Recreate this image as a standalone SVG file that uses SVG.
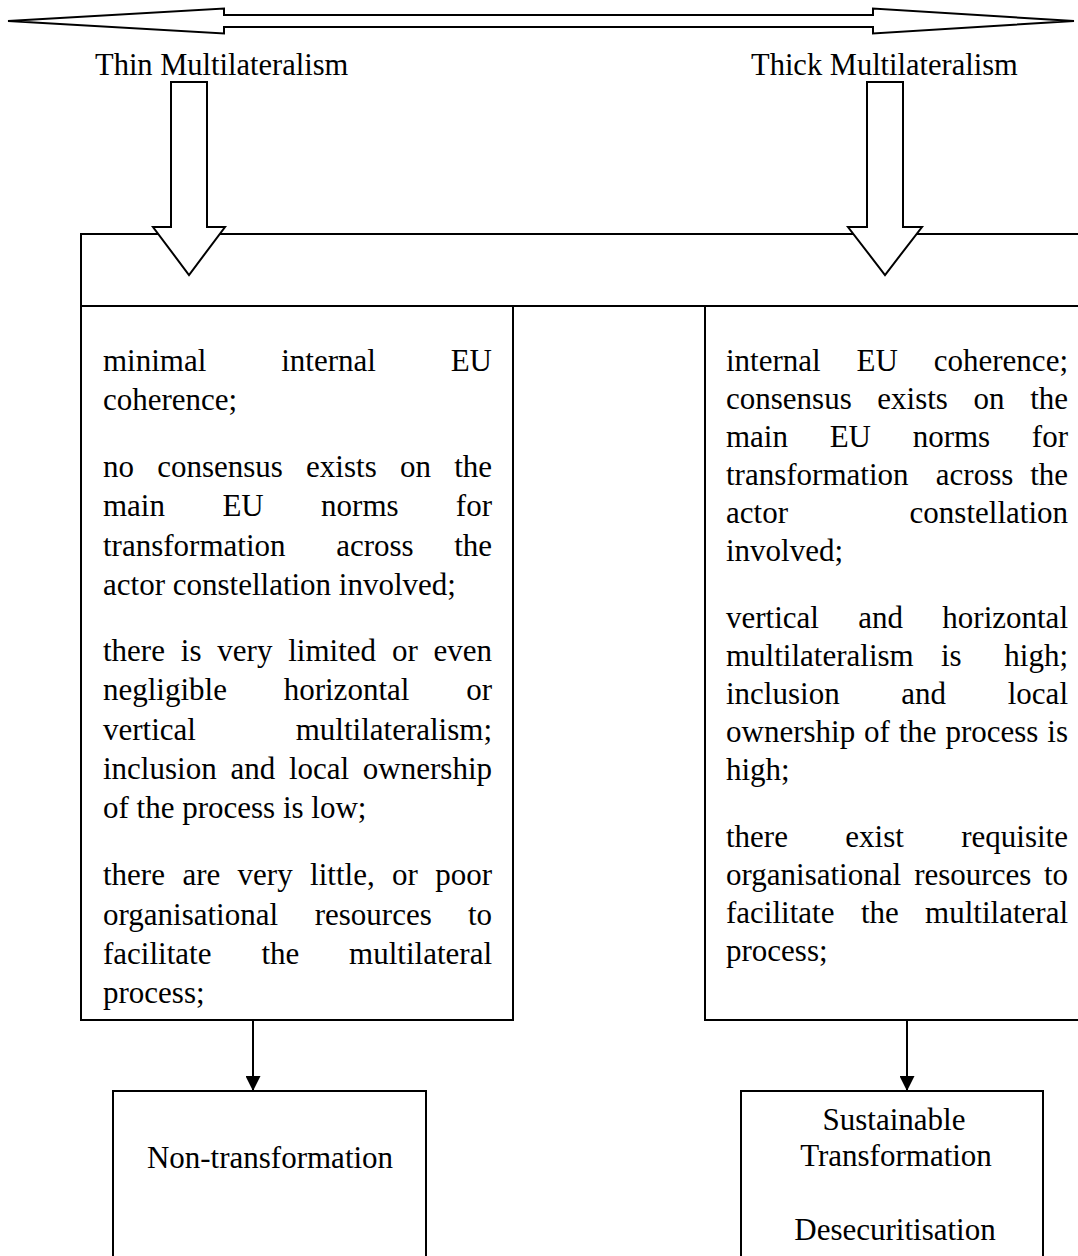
<svg xmlns="http://www.w3.org/2000/svg" width="1078" height="1256" viewBox="0 0 1078 1256">
<style>
.bx{fill:#fff;stroke:#000;stroke-width:2}
.blk{fill:#fff;stroke:#000;stroke-width:2;stroke-linejoin:miter}
.t{font-family:"Liberation Serif","Times New Roman",serif;font-size:31px;fill:#000}
.h{font-family:"Liberation Serif","Times New Roman",serif;font-size:30.5px;fill:#000}
.e{text-anchor:end}
.c{text-anchor:middle}
.ln{stroke:#000;stroke-width:2;fill:none}
</style>
<defs>
<marker id="ah" markerWidth="15" markerHeight="15" refX="14" refY="7.5" orient="auto" markerUnits="userSpaceOnUse">
<path d="M0,0 L15,7.5 L0,15 z" fill="#000"/>
</marker>
</defs>
<rect width="1078" height="1256" fill="#fff"/>

<g id="spectrum">
<polygon class="blk" points="8,21 224,8.5 224,15 873,15 873,8.5 1074,21 873,33.5 873,27 224,27 224,33.5"/>
</g>

<g id="thin-label"><text class="h" x="95" y="75">Thin Multilateralism</text></g>
<g id="thick-label"><text class="h" x="751" y="75">Thick Multilateralism</text></g>

<g id="top-box"><rect class="bx" x="81" y="234" width="1010" height="72"/></g>

<g id="thin-box">
<rect class="bx" x="81" y="306" width="432" height="714"/>
<text class="t" x="103" y="371">minimal</text><text class="t" x="281.2" y="371">internal</text><text class="t e" x="492" y="371">EU</text>
<text class="t" x="103" y="410">coherence;</text>
<text class="t" x="103" y="477">no</text><text class="t" x="157.2" y="477">consensus</text><text class="t" x="306.1" y="477">exists</text><text class="t" x="399.9" y="477">on</text><text class="t e" x="492" y="477">the</text>
<text class="t" x="103" y="516">main</text><text class="t" x="222.4" y="516">EU</text><text class="t" x="321.1" y="516">norms</text><text class="t e" x="492" y="516">for</text>
<text class="t" x="103" y="556">transformation</text><text class="t" x="336.2" y="556">across</text><text class="t e" x="492" y="556">the</text>
<text class="t" x="103" y="595">actor constellation involved;</text>
<text class="t" x="103" y="661">there</text><text class="t" x="180.8" y="661">is</text><text class="t" x="217.3" y="661">very</text><text class="t" x="288.2" y="661">limited</text><text class="t" x="391.9" y="661">or</text><text class="t e" x="492" y="661">even</text>
<text class="t" x="103" y="700">negligible</text><text class="t" x="283.7" y="700">horizontal</text><text class="t e" x="492" y="700">or</text>
<text class="t" x="103" y="740">vertical</text><text class="t e" x="492" y="740">multilateralism;</text>
<text class="t" x="103" y="779">inclusion</text><text class="t" x="230.4" y="779">and</text><text class="t" x="288.9" y="779">local</text><text class="t e" x="492" y="779">ownership</text>
<text class="t" x="103" y="818">of the process is low;</text>
<text class="t" x="103" y="885">there</text><text class="t" x="182.4" y="885">are</text><text class="t" x="237.6" y="885">very</text><text class="t" x="310.1" y="885">little,</text><text class="t" x="392.1" y="885">or</text><text class="t e" x="492" y="885">poor</text>
<text class="t" x="103" y="925">organisational</text><text class="t" x="314.7" y="925">resources</text><text class="t e" x="492" y="925">to</text>
<text class="t" x="103" y="964">facilitate</text><text class="t" x="261.4" y="964">the</text><text class="t e" x="492" y="964">multilateral</text>
<text class="t" x="103" y="1003">process;</text>
</g>

<g id="thick-box">
<rect class="bx" x="705" y="306" width="386" height="714"/>
<text class="t" x="726" y="371">internal</text><text class="t" x="856.5" y="371">EU</text><text class="t e" x="1068" y="371">coherence;</text>
<text class="t" x="726" y="409">consensus</text><text class="t" x="877.3" y="409">exists</text><text class="t" x="973.5" y="409">on</text><text class="t e" x="1068" y="409">the</text>
<text class="t" x="726" y="447">main</text><text class="t" x="829.7" y="447">EU</text><text class="t" x="912.7" y="447">norms</text><text class="t e" x="1068" y="447">for</text>
<text class="t" x="726" y="485">transformation</text><text class="t" x="935.8" y="485">across</text><text class="t e" x="1068" y="485">the</text>
<text class="t" x="726" y="523">actor</text><text class="t e" x="1068" y="523">constellation</text>
<text class="t" x="726" y="561">involved;</text>
<text class="t" x="726" y="628">vertical</text><text class="t" x="858.3" y="628">and</text><text class="t e" x="1068" y="628">horizontal</text>
<text class="t" x="726" y="666">multilateralism</text><text class="t" x="940.9" y="666">is</text><text class="t e" x="1068" y="666">high;</text>
<text class="t" x="726" y="704">inclusion</text><text class="t" x="901.3" y="704">and</text><text class="t e" x="1068" y="704">local</text>
<text class="t" x="726" y="742">ownership</text><text class="t" x="864" y="742">of</text><text class="t" x="898.7" y="742">the</text><text class="t" x="945.4" y="742">process</text><text class="t e" x="1068" y="742">is</text>
<text class="t" x="726" y="780">high;</text>
<text class="t" x="726" y="847">there</text><text class="t" x="845.3" y="847">exist</text><text class="t e" x="1068" y="847">requisite</text>
<text class="t" x="726" y="885">organisational</text><text class="t" x="914.2" y="885">resources</text><text class="t e" x="1068" y="885">to</text>
<text class="t" x="726" y="923">facilitate</text><text class="t" x="860.9" y="923">the</text><text class="t e" x="1068" y="923">multilateral</text>
<text class="t" x="726" y="961">process;</text>
</g>

<g id="non-transformation">
<rect class="bx" x="113" y="1091" width="313" height="175"/>
<text class="t c" x="270" y="1168">Non-transformation</text>
</g>

<g id="sustainable-transformation">
<rect class="bx" x="741" y="1091" width="302" height="175"/>
<text class="t c" x="894" y="1130">Sustainable</text>
<text class="t c" x="896" y="1166">Transformation</text>
<text class="t c" x="895" y="1240">Desecuritisation</text>
</g>

<g id="connectors">
<polygon class="blk" points="171,82 207,82 207,227 225,227 189,275 153,227 171,227"/>
<polygon class="blk" points="867,82 903,82 903,227 922,227 885,275 848,227 867,227"/>
<line class="ln" x1="253" y1="1021" x2="253" y2="1090" marker-end="url(#ah)"/>
<line class="ln" x1="907" y1="1021" x2="907" y2="1090" marker-end="url(#ah)"/>
</g>
</svg>
